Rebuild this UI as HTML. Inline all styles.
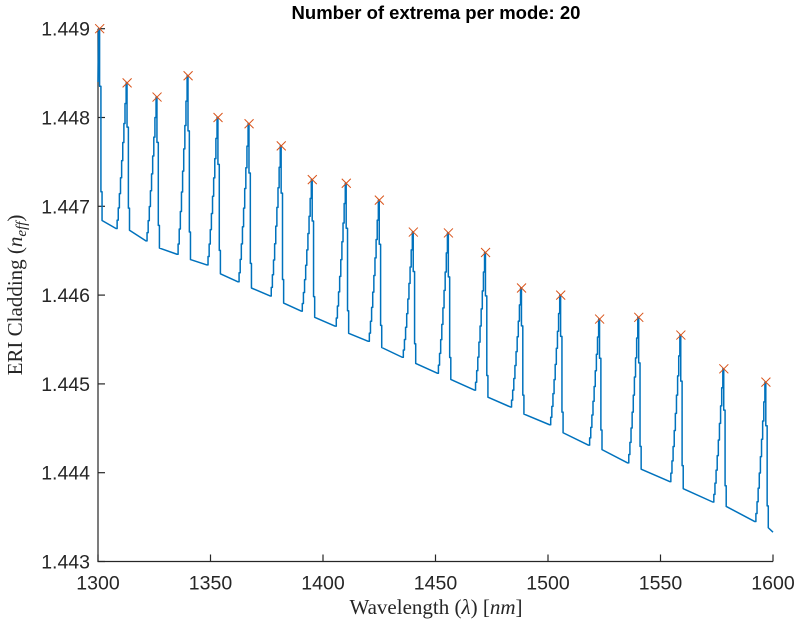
<!DOCTYPE html>
<html><head><meta charset="utf-8"><style>
body{margin:0;background:#fff;}
svg text{font-family:"Liberation Sans",Arial,sans-serif;}
.serif{font-family:"Liberation Serif","DejaVu Serif",serif;}
</style></head><body>
<svg id="chart" width="798" height="626" viewBox="0 0 798 626" xmlns="http://www.w3.org/2000/svg">
<rect x="0" y="0" width="798" height="626" fill="#fff"/>
<text x="436" y="19" text-anchor="middle" font-size="18.5" font-weight="bold" fill="#000">Number of extrema per mode: 20</text>
<g id="axes"></g>
<g id="series"></g>
<text x="436" y="614" text-anchor="middle" font-size="21" class="serif" fill="#262626">Wavelength (<tspan font-style="italic">λ</tspan>) [<tspan font-style="italic">nm</tspan>]</text>
<text transform="translate(22,295) rotate(-90)" text-anchor="middle" font-size="21" class="serif" fill="#262626">ERI Cladding (<tspan font-style="italic">n</tspan><tspan font-style="italic" font-size="15" dy="4">eff</tspan><tspan dy="-4">)</tspan></text>
</svg>
<script>
const xTicks = [1300, 1350, 1400, 1450, 1500, 1550, 1600];
const yTicks = [1.443, 1.444, 1.445, 1.446, 1.447, 1.448, 1.449];
const yTickLabels = ["1.443", "1.444", "1.445", "1.446", "1.447", "1.448", "1.449"];
const peakWl = [1300.3, 1312.5, 1325.8, 1339.6, 1352.9, 1366.7, 1381.0, 1394.8, 1409.9, 1424.6, 1439.7, 1455.3, 1471.8, 1487.8, 1505.2, 1522.5, 1539.9, 1558.6, 1577.7, 1596.4];
const peakVal = [1.44900, 1.44839, 1.44823, 1.44847, 1.44800, 1.44793, 1.44768, 1.44730, 1.44726, 1.44707, 1.44671, 1.44670, 1.44648, 1.44608, 1.44600, 1.44573, 1.44575, 1.44555, 1.44517, 1.44502];
const baseStart = [1.44684, 1.44673, 1.44653, 1.44640, 1.44624, 1.44608, 1.44591, 1.44575, 1.44557, 1.44541, 1.44523, 1.44505, 1.44485, 1.44466, 1.44445, 1.44426, 1.44404, 1.44382, 1.44362, 1.44338];
const baseEnd = [1.44675, 1.44661, 1.44646, 1.44634, 1.44615, 1.44599, 1.44582, 1.44565, 1.44548, 1.44530, 1.44512, 1.44493, 1.44474, 1.44454, 1.44431, 1.44411, 1.44390, 1.44367, 1.44345, 1.44333];

const L = 98, R = 773, T = 28.7, B = 561.5;
const xMin = 1300, xMax = 1600, yMin = 1.443, yMax = 1.449;
function sx(v){ return L + (v - xMin) / (xMax - xMin) * (R - L); }
function sy(v){ return B - (v - yMin) / (yMax - yMin) * (B - T); }
const NS = "http://www.w3.org/2000/svg";
const axes = document.getElementById('axes');
const series = document.getElementById('series');
function mk(tag, attrs, parent){
  const e = document.createElementNS(NS, tag);
  for (const k in attrs) e.setAttribute(k, attrs[k]);
  parent.appendChild(e);
  return e;
}
let ax = mk('path', {d:`M${L},${T} L${L},${B} L${R},${B}`, stroke:'#262626', 'stroke-width':1.2, fill:'none'}, axes);


xTicks.forEach(v => {
  const x = sx(v);
  const t = mk('line', {x1:x, x2:x, y1:B, y2:B-7, stroke:'#262626', 'stroke-width':1.2}, axes);
  
  
  const lb = mk('text', {x:x, y:B+28, 'text-anchor':'middle', 'font-size':19.5, fill:'#262626'}, axes);
  lb.textContent = String(v);
  
  
});
yTicks.forEach((v, i) => {
  const y = sy(v);
  const t = mk('line', {x1:L, x2:L+7, y1:y, y2:y, stroke:'#262626', 'stroke-width':1.2}, axes);
  
  
  const lb = mk('text', {x:L-8, y:y+7, 'text-anchor':'end', 'font-size':19.5, fill:'#262626'}, axes);
  lb.textContent = yTickLabels[i];
  
  
});
const pts = [];
pts.push([1300, 1.4484]);
for (let i = 0; i < peakWl.length; i++) {
  const w = peakWl[i], p = peakVal[i];
  if (i > 0) {
    const b = baseEnd[i-1];
    const w0 = w - 4.5;
    const n = 9;
    for (let k = 1; k <= n; k++) {
      const t = k / n;
      const yv = b + (p - b) * Math.pow(t, 1.3);
      pts.push([w0 + (w - w0) * t, pts[pts.length-1][1]]);
      pts.push([w0 + (w - w0) * t, yv]);
    }
  }
  pts.push([w, p]);
  const bs = baseStart[i];
  pts.push([w + 0.4, p]);
  pts.push([w + 0.4, p - 0.3 * (p - bs)]);
  pts.push([w + 1.0, p - 0.3 * (p - bs)]);
  pts.push([w + 1.0, bs + 0.15 * (p - bs)]);
  pts.push([w + 1.5, bs + 0.15 * (p - bs)]);
  pts.push([w + 1.5, bs]);
  const wEnd = (i < peakWl.length - 1) ? peakWl[i+1] - 4.5 : 1600;
  pts.push([wEnd, baseEnd[i]]);
}
const d = pts.map((q, j) => (j ? 'L' : 'M') + sx(q[0]).toFixed(2) + ',' + sy(q[1]).toFixed(2)).join(' ');
const line = mk('path', {d:d, stroke:'#0072BD', 'stroke-width':1.5, fill:'none', 'stroke-linejoin':'round'}, series);


peakWl.forEach((w, i) => {
  const x = sx(w) + 1, y = sy(peakVal[i]), s = 4.5;
  const m = mk('path', {d:`M${x-s},${y-s} L${x+s},${y+s} M${x-s},${y+s} L${x+s},${y-s}`, stroke:'#D95319', 'stroke-width':1, fill:'none'}, series);
  
  
});
</script>
</body></html>
